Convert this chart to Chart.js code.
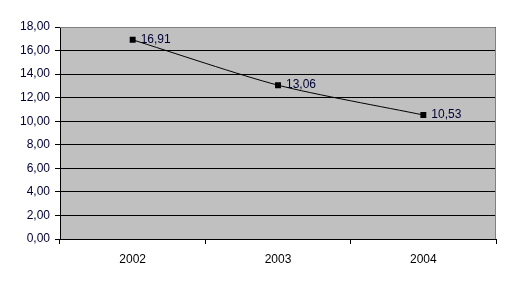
<!DOCTYPE html>
<html>
<head>
<meta charset="utf-8">
<script src="https://cdn.jsdelivr.net/npm/chart.js@4/dist/chart.umd.min.js"></script>
<style>
  html, body { margin: 0; padding: 0; background: #fff; }
  #wrap { width: 513px; height: 287px; }
</style>
</head>
<body>
<div id="wrap"><canvas id="myChart" width="513" height="287"></canvas></div>
<script>
const years = ['2002', '2003', '2004'];
const values = [16.91, 13.06, 10.53];
const yMin = 0, yMax = 18, yStep = 2;

const fmt = v => v.toFixed(2).replace('.', ',');

// grey plot area + grey border on top/right, like the old Excel look
const plotBackground = {
  id: 'plotBackground',
  beforeDraw(chart) {
    const {ctx, chartArea: a} = chart;
    ctx.save();
    ctx.fillStyle = '#c0c0c0';
    ctx.fillRect(a.left, a.top, a.right - a.left, a.bottom - a.top);
    ctx.restore();
  },
  afterDatasetsDraw(chart) {
    const {ctx, chartArea: a} = chart;
    ctx.save();
    ctx.strokeStyle = '#808080';
    ctx.lineWidth = 1;
    ctx.beginPath();
    ctx.moveTo(a.left, a.top + 0.5);
    ctx.lineTo(a.right - 0.5, a.top + 0.5);
    ctx.lineTo(a.right - 0.5, a.bottom);
    ctx.stroke();
    ctx.restore();
  }
};

const valueLabels = {
  id: 'valueLabels',
  afterDatasetsDraw(chart) {
    const {ctx} = chart;
    const meta = chart.getDatasetMeta(0);
    ctx.save();
    ctx.font = '12px "Liberation Sans", Arial, sans-serif';
    ctx.fillStyle = '#000033';
    ctx.textBaseline = 'middle';
    ctx.textAlign = 'left';
    meta.data.forEach((pt, i) => {
      ctx.fillText(fmt(values[i]), pt.x + 8, pt.y);
    });
    ctx.restore();
  }
};

const data = {
  labels: years,
  datasets: [{
    data: values,
    borderColor: '#000',
    borderWidth: 1,
    backgroundColor: '#000',
    pointStyle: 'rect',
    pointRadius: 4.2,
    pointBorderWidth: 0,
    tension: 0.25,
    fill: false
  }]
};

const config = {
  type: 'line',
  data: data,
  options: {
    responsive: false,
    animation: false,
    layout: { padding: { top: 27, right: 17, left: 0, bottom: 0 } },
    plugins: {
      legend: { display: false },
      tooltip: { enabled: false }
    },
    scales: {
      x: {
        offset: true,
        grid: {
          offset: true,
          drawOnChartArea: false,
          drawTicks: true,
          tickLength: 5,
          color: '#000'
        },
        border: { color: '#000', width: 1 },
        ticks: {
          color: '#000',
          padding: 8,
          font: { family: '"Liberation Sans", Arial, sans-serif', size: 12 }
        },
        afterFit: s => { s.height = 48; }
      },
      y: {
        min: yMin,
        max: yMax,
        ticks: {
          stepSize: yStep,
          color: '#000033',
          padding: 5,
          font: { family: '"Liberation Sans", Arial, sans-serif', size: 12 },
          callback: v => fmt(v)
        },
        grid: { color: '#000', tickLength: 5, lineWidth: 1 },
        border: { color: '#000', width: 1 },
        afterFit: s => { s.width = 60; }
      }
    }
  },
  plugins: [plotBackground, valueLabels]
};

const myChart = new Chart(document.getElementById('myChart'), config);
</script>
</body>
</html>
